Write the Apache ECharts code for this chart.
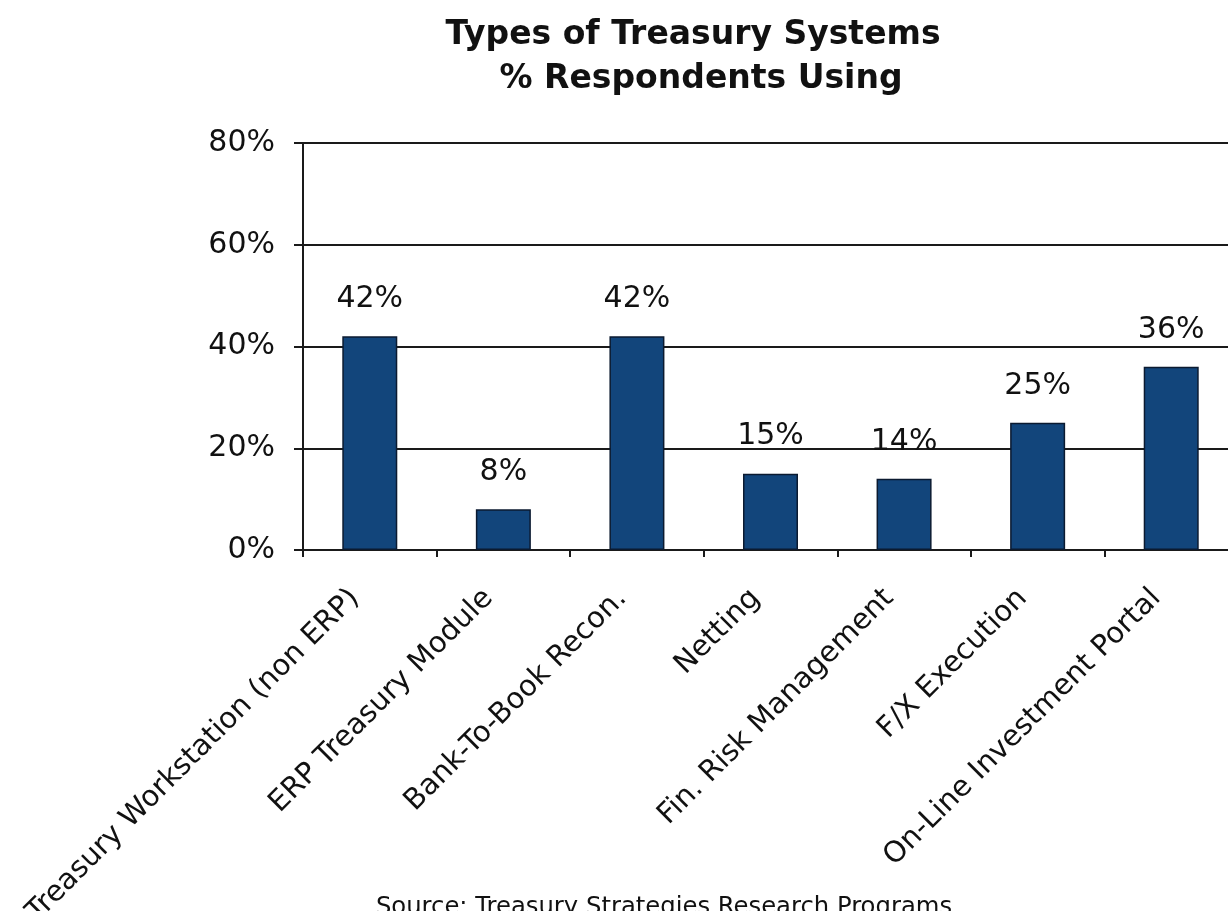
<!DOCTYPE html>
<html>
<head>
<meta charset="utf-8">
<script src="https://cdn.jsdelivr.net/npm/echarts@6/dist/echarts.min.js"></script>
<style>
  html, body { margin: 0; padding: 0; background: #fff; }
  #chart { width: 1228px; height: 911px; }
</style>
</head>
<body>
<div id="chart"></div>
<script>
// Treasury system types and share of respondents using each
const categories = [
  'Treasury Workstation (non ERP)',
  'ERP Treasury Module',
  'Bank-To-Book Recon.',
  'Netting',
  'Fin. Risk Management',
  'F/X Execution',
  'On-Line Investment Portal'
];
const usagePct = [42, 8, 42, 15, 14, 25, 36];
const yTicks = [0, 20, 40, 60, 80];

const titleLines = ['Types of Treasury Systems', '% Respondents Using'];
const sourceNote = 'Source: Treasury Strategies Research Programs';

const FONT = '"DejaVu Sans", "Liberation Sans", Arial, sans-serif';
const INK = '#1a1a1a';

const chart = echarts.init(document.getElementById('chart'), null, { renderer: 'canvas' });

chart.setOption({
  backgroundColor: '#ffffff',
  animation: false,
  title: [
    {
      text: titleLines[0],
      left: 688,
      top: 14,
      textAlign: 'center',
      textStyle: { fontFamily: FONT, fontWeight: 'bold', fontSize: 33, color: '#111' }
    },
    {
      text: titleLines[1],
      left: 696,
      top: 58,
      textAlign: 'center',
      textStyle: { fontFamily: FONT, fontWeight: 'bold', fontSize: 33, color: '#111' }
    },
    {
      text: sourceNote,
      left: 659,
      top: 891,
      textAlign: 'center',
      textStyle: { fontFamily: FONT, fontWeight: 'normal', fontSize: 24.3, color: '#111' }
    }
  ],
  grid: {
    left: 303,
    top: 143,
    right: -10,
    bottom: 361,
    containLabel: false,
    outerBoundsMode: 'none'
  },
  xAxis: {
    type: 'category',
    data: categories,
    axisLine: { show: true, lineStyle: { color: INK, width: 2 } },
    axisTick: { show: true, alignWithLabel: false, length: 7, lineStyle: { color: INK, width: 2 } },
    axisLabel: {
      rotate: 45,
      interval: 0,
      margin: 29,
      padding: [0, 21, 0, 0],
      fontFamily: FONT,
      fontSize: 29,
      color: '#111'
    },
    splitLine: { show: false }
  },
  yAxis: {
    type: 'value',
    min: yTicks[0],
    max: yTicks[yTicks.length - 1],
    interval: yTicks[1] - yTicks[0],
    axisLine: { show: true, lineStyle: { color: INK, width: 2 } },
    axisTick: { show: true, inside: false, length: 9, lineStyle: { color: INK, width: 2 } },
    axisLabel: {
      formatter: '{value}%',
      margin: 28,
      fontFamily: FONT,
      fontSize: 30,
      color: '#111'
    },
    splitLine: { show: true, lineStyle: { color: INK, width: 2 } }
  },
  series: [
    {
      type: 'bar',
      data: usagePct,
      barWidth: 55,
      itemStyle: {
        color: '#12457b',
        borderColor: '#0b1a30',
        borderWidth: 1.5
      },
      label: {
        show: true,
        position: 'top',
        distance: 22,
        formatter: '{c}%',
        fontFamily: FONT,
        fontSize: 30,
        color: '#111'
      }
    }
  ]
});
</script>
</body>
</html>
